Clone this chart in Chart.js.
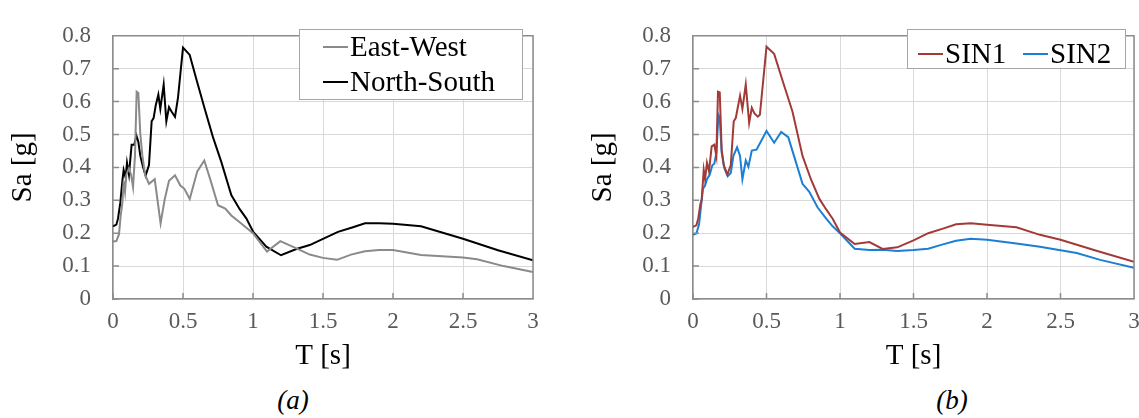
<!DOCTYPE html>
<html>
<head>
<meta charset="utf-8">
<script src="https://cdn.jsdelivr.net/npm/chart.js@4/dist/chart.umd.min.js"></script>
<style>
  html, body { margin: 0; padding: 0; background: #fff; overflow: hidden; }
  body { width: 1139px; height: 418px; position: relative; }
  canvas { position: absolute; top: 0; }
  .caption { position: absolute; top: 385px; width: 80px; text-align: center;
             font-family: "Liberation Serif", serif; font-style: italic; font-size: 27px; color: #000; }
</style>
</head>
<body>
<canvas id="chart-a" width="560" height="380" style="left:0px"></canvas>
<canvas id="chart-b" width="580" height="380" style="left:580px"></canvas>
<div class="caption" style="left:253px">(a)</div>
<div class="caption" style="left:912px">(b)</div>
<script>
// tick values shared by both spectra
const xTicks = [0, 0.5, 1, 1.5, 2, 2.5, 3];
const yTicks = [0, 0.1, 0.2, 0.3, 0.4, 0.5, 0.6, 0.7, 0.8];

// (a) East-West component
const ewT  = [0, 0.024, 0.043, 0.055, 0.067, 0.076, 0.086, 0.095, 0.114, 0.129, 0.143, 0.157, 0.169, 0.181, 0.195, 0.21, 0.229, 0.257, 0.298, 0.34, 0.369, 0.4, 0.443, 0.481, 0.51, 0.548, 0.602, 0.652, 0.698, 0.75, 0.802, 0.845, 0.905, 1.0, 1.1, 1.195, 1.31, 1.405, 1.5, 1.6, 1.7, 1.8, 1.9, 2.0, 2.2, 2.5, 2.6, 2.79, 3.0];
const ewSa = [0.175, 0.176, 0.197, 0.254, 0.292, 0.359, 0.326, 0.378, 0.397, 0.378, 0.34, 0.435, 0.63, 0.626, 0.502, 0.435, 0.378, 0.35, 0.364, 0.23, 0.302, 0.359, 0.376, 0.345, 0.335, 0.304, 0.388, 0.421, 0.359, 0.285, 0.275, 0.254, 0.233, 0.2, 0.144, 0.176, 0.154, 0.135, 0.125, 0.119, 0.135, 0.145, 0.149, 0.149, 0.134, 0.126, 0.121, 0.1, 0.082];

// (a) North-South component
const nsT  = [0, 0.024, 0.036, 0.052, 0.067, 0.076, 0.09, 0.1, 0.114, 0.133, 0.152, 0.167, 0.181, 0.195, 0.214, 0.233, 0.257, 0.276, 0.29, 0.305, 0.324, 0.338, 0.362, 0.381, 0.4, 0.419, 0.443, 0.464, 0.5, 0.548, 0.595, 0.655, 0.714, 0.774, 0.845, 0.905, 0.952, 1.0, 1.095, 1.2, 1.31, 1.405, 1.5, 1.607, 1.714, 1.8, 1.9, 2.0, 2.2, 2.5, 2.75, 3.0];
const nsSa = [0.221, 0.226, 0.245, 0.292, 0.359, 0.392, 0.369, 0.414, 0.378, 0.469, 0.469, 0.497, 0.478, 0.435, 0.402, 0.375, 0.407, 0.54, 0.55, 0.588, 0.621, 0.578, 0.652, 0.54, 0.583, 0.569, 0.554, 0.611, 0.764, 0.742, 0.669, 0.578, 0.492, 0.416, 0.316, 0.273, 0.245, 0.205, 0.159, 0.133, 0.152, 0.164, 0.183, 0.204, 0.218, 0.23, 0.23, 0.229, 0.221, 0.183, 0.148, 0.118];

// (b) SIN1 record
const sin1T  = [0, 0.023, 0.036, 0.05, 0.059, 0.073, 0.082, 0.095, 0.109, 0.127, 0.145, 0.159, 0.17, 0.182, 0.195, 0.209, 0.234, 0.257, 0.277, 0.291, 0.305, 0.32, 0.336, 0.359, 0.382, 0.4, 0.418, 0.441, 0.455, 0.5, 0.552, 0.609, 0.677, 0.745, 0.802, 0.859, 0.905, 0.95, 1.0, 1.1, 1.2, 1.29, 1.39, 1.5, 1.6, 1.7, 1.79, 1.89, 2.0, 2.2, 2.36, 2.5, 2.75, 3.0];
const sin1Sa = [0.219, 0.224, 0.245, 0.288, 0.302, 0.392, 0.364, 0.414, 0.388, 0.464, 0.469, 0.435, 0.63, 0.628, 0.454, 0.407, 0.378, 0.407, 0.54, 0.55, 0.583, 0.618, 0.578, 0.652, 0.535, 0.581, 0.564, 0.554, 0.56, 0.767, 0.745, 0.664, 0.569, 0.435, 0.364, 0.305, 0.273, 0.244, 0.202, 0.167, 0.173, 0.152, 0.157, 0.178, 0.2, 0.214, 0.227, 0.23, 0.226, 0.218, 0.195, 0.18, 0.146, 0.113];

// (b) SIN2 record
const sin2T  = [0, 0.023, 0.041, 0.055, 0.068, 0.082, 0.095, 0.114, 0.132, 0.145, 0.159, 0.173, 0.182, 0.195, 0.214, 0.236, 0.257, 0.275, 0.3, 0.32, 0.336, 0.359, 0.377, 0.4, 0.432, 0.45, 0.473, 0.5, 0.552, 0.6, 0.648, 0.7, 0.745, 0.791, 0.848, 0.905, 0.95, 1.0, 1.1, 1.2, 1.29, 1.39, 1.5, 1.6, 1.7, 1.79, 1.89, 2.0, 2.2, 2.36, 2.61, 2.77, 3.0];
const sin2Sa = [0.195, 0.199, 0.226, 0.283, 0.335, 0.345, 0.364, 0.378, 0.407, 0.411, 0.445, 0.559, 0.55, 0.445, 0.397, 0.373, 0.383, 0.435, 0.461, 0.435, 0.364, 0.421, 0.402, 0.451, 0.454, 0.469, 0.488, 0.511, 0.475, 0.508, 0.492, 0.416, 0.35, 0.326, 0.278, 0.245, 0.221, 0.2, 0.153, 0.149, 0.15, 0.146, 0.149, 0.153, 0.166, 0.177, 0.183, 0.18, 0.169, 0.159, 0.14, 0.119, 0.095];

const serif = '"Liberation Serif", serif';
const frameColor = "#8c8c8c";

function toPoints(xs, ys){
    return xs.map((x, i) => ({ x: x, y: ys[i] }));
}

// top/right frame lines and the short inward tick marks
const frame = {
    id: "frame",
    afterDatasetsDraw(chart){
        const { ctx, chartArea: a, scales } = chart;
        ctx.save();
        ctx.strokeStyle = frameColor;
        ctx.lineWidth = 1.5;
        ctx.beginPath();
        ctx.moveTo(a.left, a.top);
        ctx.lineTo(a.right, a.top);
        ctx.lineTo(a.right, a.bottom);
        scales.x.ticks.forEach(t => {
            const px = scales.x.getPixelForValue(t.value);
            ctx.moveTo(px, a.bottom);
            ctx.lineTo(px, a.bottom - 6);
        });
        scales.y.ticks.forEach(t => {
            const py = scales.y.getPixelForValue(t.value);
            ctx.moveTo(a.left, py);
            ctx.lineTo(a.left + 6, py);
        });
        ctx.stroke();
        ctx.restore();
    }
};

// boxed legend sitting inside the plot
const boxLegend = {
    id: "boxLegend",
    afterDraw(chart, args, opts){
        const ctx = chart.ctx;
        const b = opts.box;
        ctx.save();
        ctx.fillStyle = "#fff";
        ctx.fillRect(b.x, b.y, b.w, b.h);
        ctx.strokeStyle = "#a6a6a6";
        ctx.lineWidth = 1;
        ctx.strokeRect(b.x + 0.5, b.y + 0.5, b.w, b.h);
        ctx.font = "29px " + serif;
        ctx.textBaseline = "middle";
        chart.data.datasets.forEach((ds, i) => {
            const it = opts.items[i];
            ctx.strokeStyle = ds.borderColor;
            ctx.lineWidth = 2;
            ctx.beginPath();
            ctx.moveTo(it.x, it.y);
            ctx.lineTo(it.x + 25, it.y);
            ctx.stroke();
            ctx.fillStyle = "#000";
            ctx.fillText(ds.label, it.x + 27, it.y + 1);
        });
        ctx.restore();
    }
};

function makeChart(id, datasets, rightPad, legendOpts){
    return new Chart(document.getElementById(id), {
        type: "line",
        data: { datasets: datasets },
        plugins: [frame, boxLegend],
        options: {
            responsive: false,
            animation: false,
            layout: { padding: { top: 19, right: rightPad, left: 0, bottom: 0 } },
            elements: {
                point: { radius: 0 },
                line: { borderWidth: 2, tension: 0 }
            },
            plugins: {
                legend: { display: false },
                tooltip: { enabled: false },
                boxLegend: legendOpts
            },
            scales: {
                x: {
                    type: "linear",
                    min: 0, max: 3,
                    afterBuildTicks: s => { s.ticks = xTicks.map(v => ({ value: v })); },
                    afterFit: s => { s.height = 81; },
                    grid: { color: "#d9d9d9", drawTicks: false },
                    border: { color: frameColor, width: 1.5 },
                    ticks: { padding: 9, autoSkip: false, maxRotation: 0, color: "#595959",
                             font: { family: serif, size: 23 }, callback: v => String(v) },
                    title: { display: true, text: "T [s]", color: "#000",
                             font: { family: serif, size: 29 }, padding: { top: 0, bottom: 6 } }
                },
                y: {
                    min: 0, max: 0.8,
                    afterBuildTicks: s => { s.ticks = yTicks.map(v => ({ value: v })); },
                    afterFit: s => { s.width = 113; },
                    grid: { color: "#d9d9d9", drawTicks: false },
                    border: { color: frameColor, width: 1.5 },
                    ticks: { padding: 22, autoSkip: false, color: "#595959",
                             font: { family: serif, size: 23 }, callback: v => String(v) },
                    title: { display: true, text: "Sa [g]", color: "#000",
                             font: { family: serif, size: 29 }, padding: { top: 6, bottom: 0 } }
                }
            }
        }
    });
}

function drawAll(){
    makeChart("chart-a", [
        { label: "East-West", data: toPoints(ewT, ewSa), borderColor: "#8a8a8a" },
        { label: "North-South", data: toPoints(nsT, nsSa), borderColor: "#000000" }
    ], 27, {
        box: { x: 299, y: 29, w: 223, h: 70 },
        items: [{ x: 323, y: 47 }, { x: 323, y: 82 }]
    });

    makeChart("chart-b", [
        { label: "SIN1", data: toPoints(sin1T, sin1Sa), borderColor: "#a23b38" },
        { label: "SIN2", data: toPoints(sin2T, sin2Sa), borderColor: "#1b7fd4" }
    ], 26, {
        box: { x: 327, y: 29, w: 218, h: 39 },
        items: [{ x: 338, y: 54 }, { x: 443, y: 54 }]
    });
}

// make sure the serif face is ready before the canvases use it
Promise.all([
    document.fonts.load('23px "Liberation Serif"'),
    document.fonts.load('italic 27px "Liberation Serif"')
]).then(drawAll, drawAll);
</script>
</body>
</html>
